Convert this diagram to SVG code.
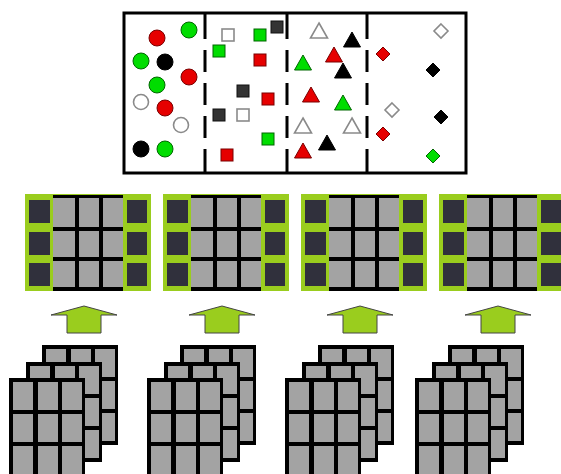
<svg xmlns="http://www.w3.org/2000/svg" xmlns:xlink="http://www.w3.org/1999/xlink" width="561" height="474" viewBox="0 0 561 474">
<style>
.red{fill:#e60000;stroke:#7a0000;stroke-width:1}
.grn{fill:#00dd00;stroke:#006600;stroke-width:1}
.blk{fill:#000;stroke:#000;stroke-width:1}
.wht{fill:#fff;stroke:#8a8a8a;stroke-width:1.6}
.dkq{fill:#333;stroke:#111;stroke-width:1}
.div{stroke:#000;stroke-width:3;stroke-dasharray:26 11 22 11 22 11 22 11 24 11}
.lime{fill:#9acd1e}
.dark{fill:#30303c}
.gray{fill:#a3a3a3}
.arrow{fill:#9acd1e;stroke:#444;stroke-width:1}
</style>
<defs>
<path id="tri" d="M0,-8 L8.5,7 L-8.5,7 Z"/>
<rect id="sq" x="-6" y="-6" width="12" height="12"/>
<path id="dia" d="M0,-7 L7,0 L0,7 L-7,0 Z"/>
<g id="panel">
<rect class="lime" x="0" y="0" width="126" height="97"/>
<rect class="dark" x="4" y="6" width="21" height="23"/>
<rect class="dark" x="4" y="38" width="21" height="23"/>
<rect class="dark" x="4" y="69" width="21" height="23"/>
<rect class="dark" x="102" y="6" width="20" height="23"/>
<rect class="dark" x="102" y="38" width="20" height="23"/>
<rect class="dark" x="102" y="69" width="20" height="23"/>
<rect fill="#000" x="28" y="1" width="70" height="96"/>
<rect class="gray" x="28" y="4" width="22" height="29"/>
<rect class="gray" x="54" y="4" width="20" height="29"/>
<rect class="gray" x="78" y="4" width="20" height="29"/>
<rect class="gray" x="28" y="37" width="22" height="26"/>
<rect class="gray" x="54" y="37" width="20" height="26"/>
<rect class="gray" x="78" y="37" width="20" height="26"/>
<rect class="gray" x="28" y="67" width="22" height="26"/>
<rect class="gray" x="54" y="67" width="20" height="26"/>
<rect class="gray" x="78" y="67" width="20" height="26"/>
</g>
<g id="sheet">
<rect fill="#000" x="0" y="0" width="76" height="100"/>
<rect class="gray" x="4" y="4" width="20" height="28"/>
<rect class="gray" x="29" y="4" width="20" height="28"/>
<rect class="gray" x="53" y="4" width="20" height="28"/>
<rect class="gray" x="4" y="36" width="20" height="28"/>
<rect class="gray" x="29" y="36" width="20" height="28"/>
<rect class="gray" x="53" y="36" width="20" height="28"/>
<rect class="gray" x="4" y="68" width="20" height="28"/>
<rect class="gray" x="29" y="68" width="20" height="28"/>
<rect class="gray" x="53" y="68" width="20" height="28"/>
</g>
<g id="stack">
<use xlink:href="#sheet" x="33" y="-33"/>
<use xlink:href="#sheet" x="17" y="-16"/>
<use xlink:href="#sheet" x="0" y="0"/>
</g>
<path id="arr" d="M-33,315 L0,306 L33,315 L17,315 L17,333 L-17,333 L-17,315 Z"/>
</defs>

<g id="classes-box">
<rect x="124" y="13" width="342" height="160" fill="#fff" stroke="#000" stroke-width="3"/>
<line class="div" x1="205" y1="13" x2="205" y2="173"/>
<line class="div" x1="287" y1="13" x2="287" y2="173"/>
<line class="div" x1="367" y1="13" x2="367" y2="173"/>
</g>

<g id="circles">
<circle class="red" cx="157" cy="38" r="8"/>
<circle class="grn" cx="189" cy="30" r="8"/>
<circle class="grn" cx="141" cy="61" r="8"/>
<circle class="blk" cx="165" cy="62" r="8"/>
<circle class="red" cx="189" cy="77" r="8"/>
<circle class="grn" cx="157" cy="85" r="8"/>
<circle class="wht" cx="141" cy="102" r="7.5"/>
<circle class="red" cx="165" cy="108" r="8"/>
<circle class="wht" cx="181" cy="125" r="7.5"/>
<circle class="blk" cx="141" cy="149" r="8"/>
<circle class="grn" cx="165" cy="149" r="8"/>
</g>

<g id="squares">
<use xlink:href="#sq" class="wht" x="228" y="35"/>
<use xlink:href="#sq" class="grn" x="260" y="35"/>
<use xlink:href="#sq" class="dkq" x="277" y="27"/>
<use xlink:href="#sq" class="grn" x="219" y="51"/>
<use xlink:href="#sq" class="red" x="260" y="60"/>
<use xlink:href="#sq" class="dkq" x="243" y="91"/>
<use xlink:href="#sq" class="red" x="268" y="99"/>
<use xlink:href="#sq" class="dkq" x="219" y="115"/>
<use xlink:href="#sq" class="wht" x="243" y="115"/>
<use xlink:href="#sq" class="grn" x="268" y="139"/>
<use xlink:href="#sq" class="red" x="227" y="155"/>
</g>

<g id="triangles">
<use xlink:href="#tri" class="wht" x="319" y="31"/>
<use xlink:href="#tri" class="blk" x="352" y="40"/>
<use xlink:href="#tri" class="red" x="334" y="55"/>
<use xlink:href="#tri" class="grn" x="303" y="63"/>
<use xlink:href="#tri" class="blk" x="343" y="71"/>
<use xlink:href="#tri" class="red" x="311" y="95"/>
<use xlink:href="#tri" class="grn" x="343" y="103"/>
<use xlink:href="#tri" class="wht" x="303" y="126"/>
<use xlink:href="#tri" class="wht" x="352" y="126"/>
<use xlink:href="#tri" class="blk" x="327" y="143"/>
<use xlink:href="#tri" class="red" x="303" y="151"/>
</g>

<g id="diamonds">
<use xlink:href="#dia" class="wht" x="441" y="31"/>
<use xlink:href="#dia" class="red" x="383" y="54"/>
<use xlink:href="#dia" class="blk" x="433" y="70"/>
<use xlink:href="#dia" class="wht" x="392" y="110"/>
<use xlink:href="#dia" class="blk" x="441" y="117"/>
<use xlink:href="#dia" class="red" x="383" y="134"/>
<use xlink:href="#dia" class="grn" x="433" y="156"/>
</g>

<g id="panel-1"><use xlink:href="#panel" x="25" y="194"/></g>
<g id="panel-2"><use xlink:href="#panel" x="163" y="194"/></g>
<g id="panel-3"><use xlink:href="#panel" x="301" y="194"/></g>
<g id="panel-4"><use xlink:href="#panel" x="439" y="194"/></g>

<g id="stack-1"><use xlink:href="#stack" x="9" y="378"/></g>
<g id="stack-2"><use xlink:href="#stack" x="147" y="378"/></g>
<g id="stack-3"><use xlink:href="#stack" x="285" y="378"/></g>
<g id="stack-4"><use xlink:href="#stack" x="415" y="378"/></g>

<g id="connectors">
<use xlink:href="#arr" class="arrow" x="84" y="0"/>
<use xlink:href="#arr" class="arrow" x="222" y="0"/>
<use xlink:href="#arr" class="arrow" x="360" y="0"/>
<use xlink:href="#arr" class="arrow" x="498" y="0"/>
</g>
</svg>
